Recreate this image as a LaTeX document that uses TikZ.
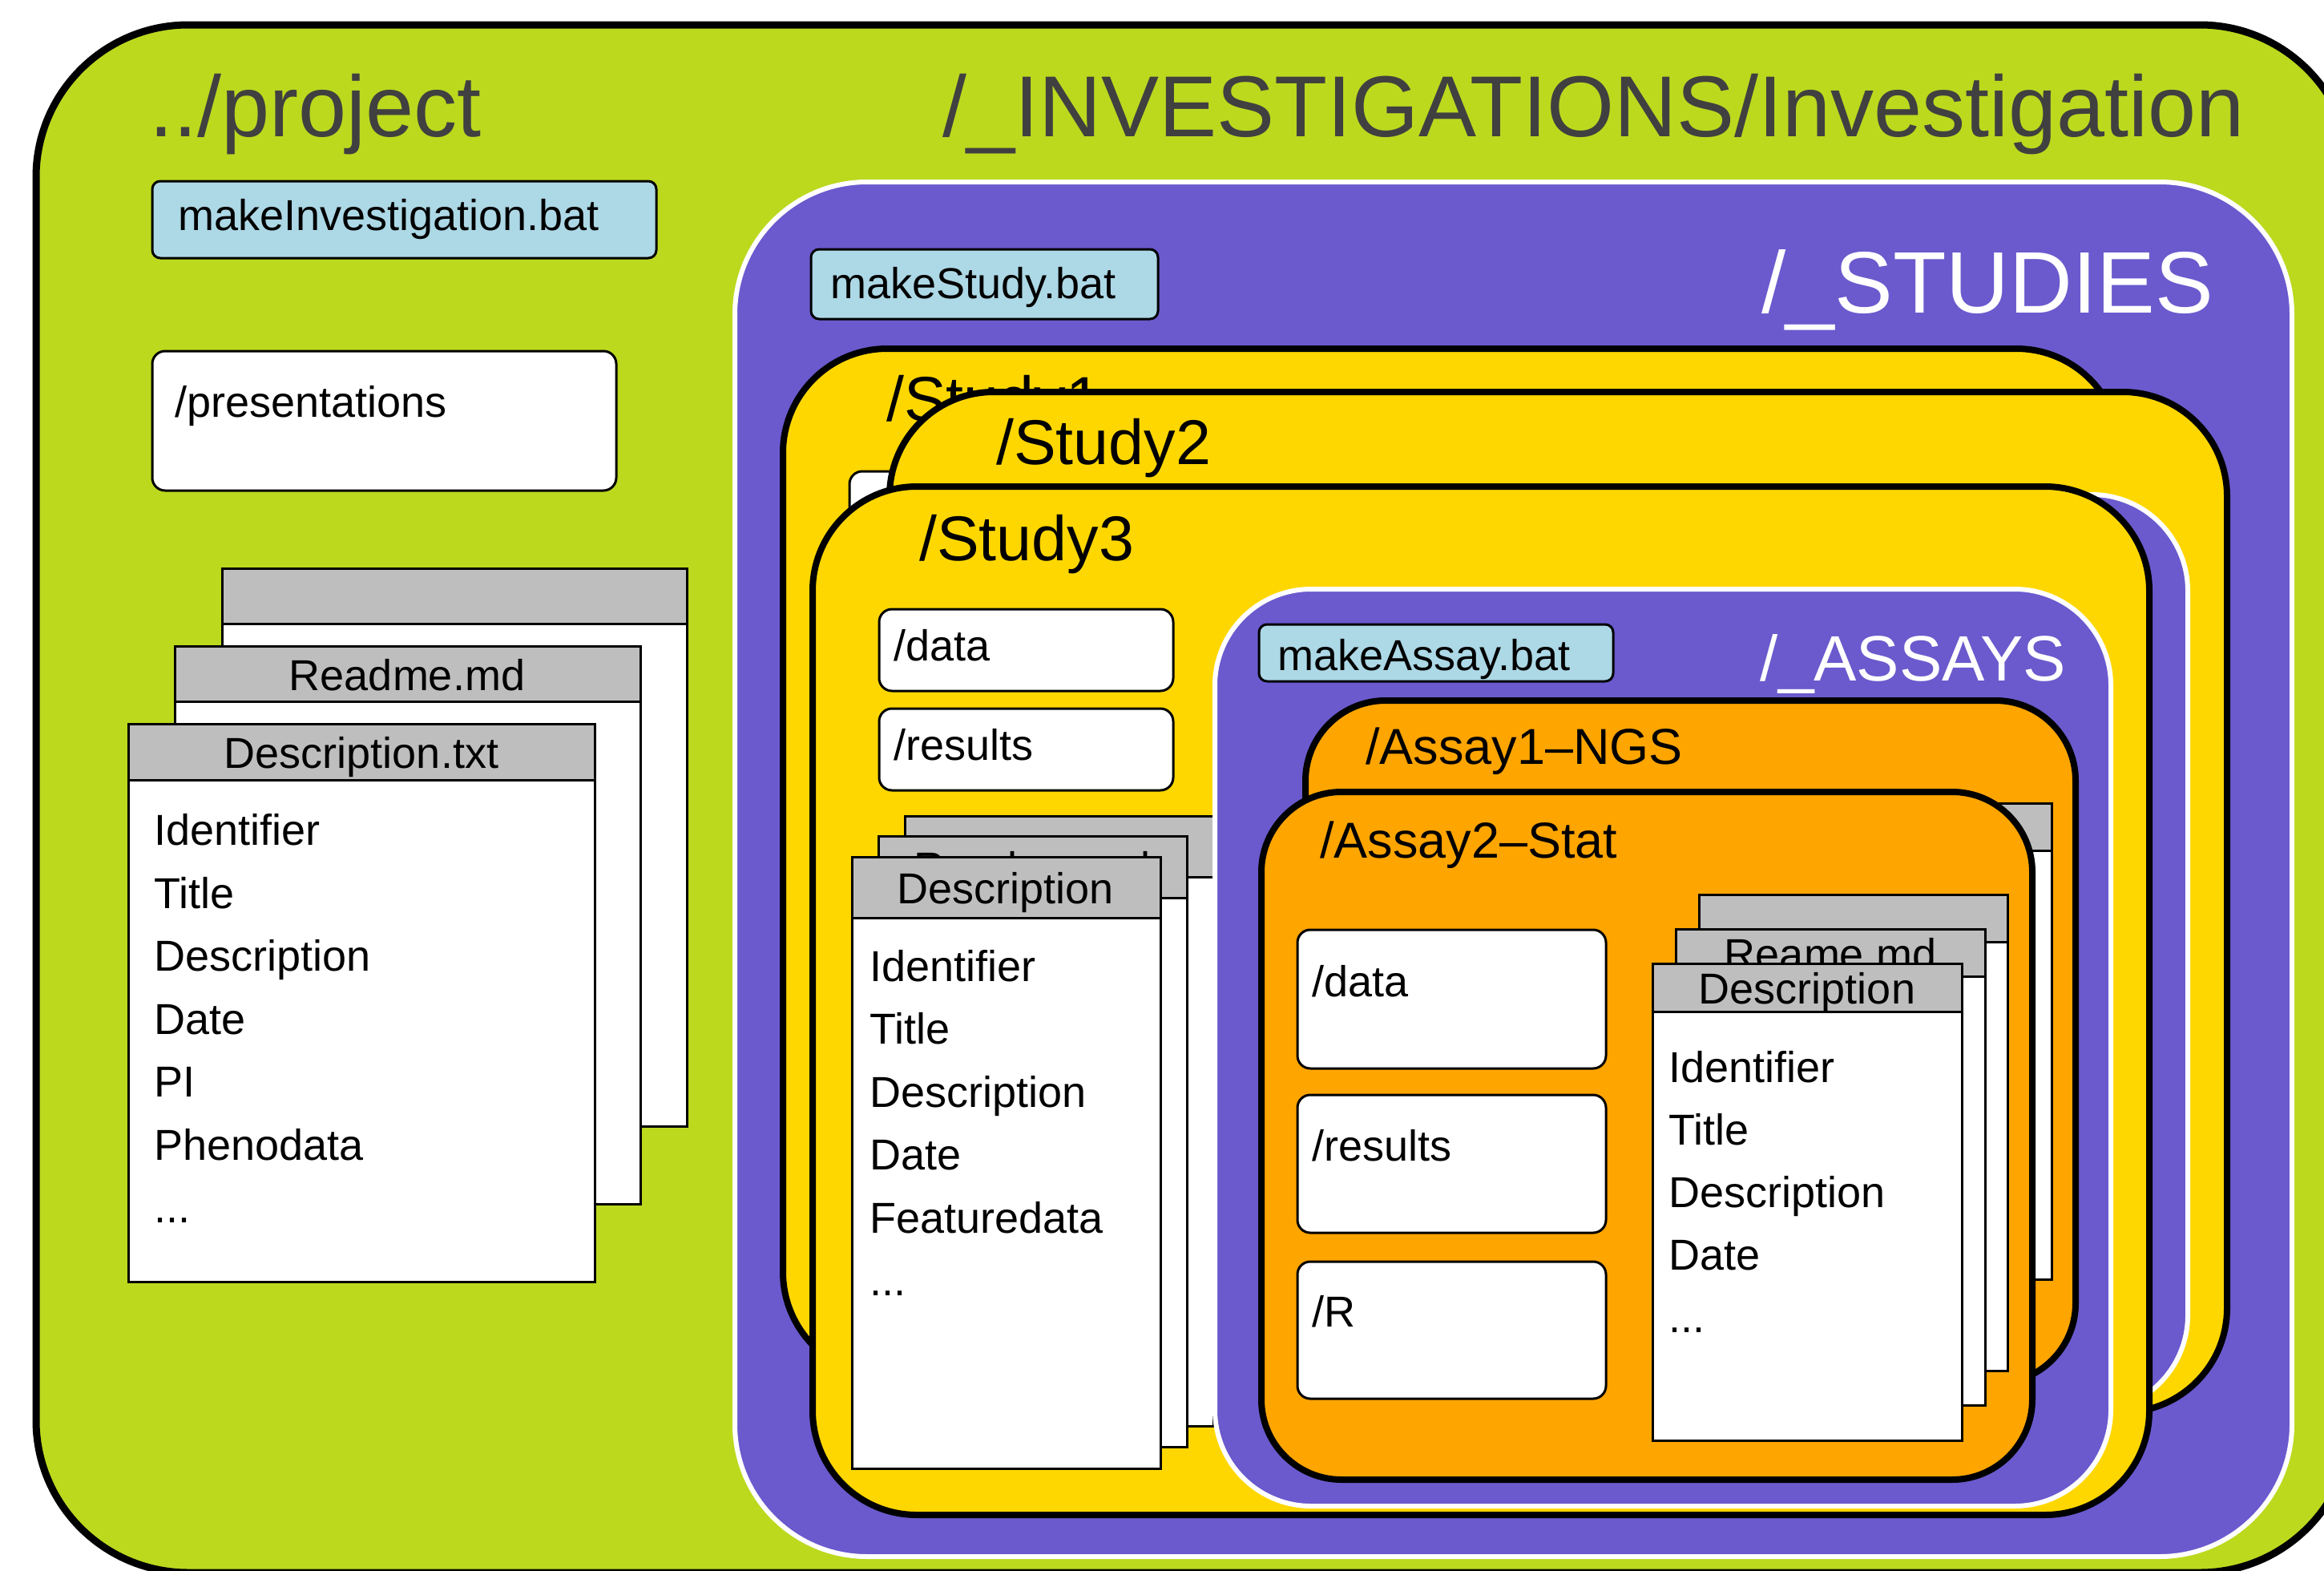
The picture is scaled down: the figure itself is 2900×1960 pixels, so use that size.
\documentclass[tikz,border=0pt]{standalone}
\usepackage{fontspec}
\setmainfont{Liberation Sans}
\definecolor{grn}{RGB}{188,217,30}
\definecolor{purp}{RGB}{106,90,205}
\definecolor{gld}{RGB}{255,215,0}
\definecolor{orng}{RGB}{255,165,0}
\definecolor{lblue}{RGB}{173,216,230}
\definecolor{hdr}{RGB}{190,190,190}
\definecolor{dgray}{RGB}{64,64,64}
\newcommand\docsheet[5]{%
  \draw[docbody] (#1,#2) rectangle (#3,#4);
  \draw[dochead] (#1,#2) rectangle (#3,{#2+#5});}
\begin{document}
\begin{tikzpicture}[x=1pt,y=-1pt,
  greenbox/.style={fill=grn,draw=black,line width=9pt,rounded corners=190pt},
  purpbox/.style={fill=purp,draw=white,line width=6pt},
  studybox/.style={fill=gld,draw=black,line width=8pt,rounded corners=130pt},
  assaybox/.style={fill=orng,draw=black,line width=8pt,rounded corners=100pt},
  batbox/.style={fill=lblue,draw=black,line width=3pt,rounded corners=10pt},
  dirbox/.style={fill=white,draw=black,line width=3pt,rounded corners=16pt},
  docbody/.style={fill=white,draw=black,line width=3pt},
  dochead/.style={fill=hdr,draw=black,line width=3pt},
  txt/.style={font=\fontsize{54pt}{60pt}\selectfont,inner sep=0pt,anchor=base west},
  ctxt/.style={txt,anchor=base},
  bigtxt/.style={font=\fontsize{108pt}{120pt}\selectfont,inner sep=0pt,anchor=base west,text=dgray},
  studylbl/.style={font=\fontsize{79pt}{90pt}\selectfont,inner sep=0pt,anchor=base west},
  assaylbl/.style={font=\fontsize{63pt}{70pt}\selectfont,inner sep=0pt,anchor=base west}
]
\useasboundingbox (0,0) rectangle (2900,1960);
\clip (0,0) rectangle (2900,1960);

% outer project box
\draw[greenbox] (45,31) rectangle (2935,1962);
\node[bigtxt] (project) at (186,170) {../project};
\node[bigtxt] (invest) at (1176,170) {/\_INVESTIGATIONS/Investigation};

\draw[batbox] (190,226) rectangle (819,322);
\node[txt] (mkinv) at (222,287) {makeInvestigation.bat};
\draw[dirbox] (190,438) rectangle (769,612);
\node[txt] (pres) at (218,520) {/presentations};

% left document stack
\docsheet{277}{709}{857}{1405}{69}
\docsheet{218}{806}{799}{1502}{69}
\node[ctxt] (readmeL) at (508,861) {Readme.md};
\docsheet{160}{903}{742}{1599}{70}
\node[ctxt] (descL) at (451,958) {Description.txt};
\node[txt] (l1) at (192,1054.5) {Identifier};
\node[txt] (l2) at (192,1133) {Title};
\node[txt] (l3) at (192,1211.5) {Description};
\node[txt] (l4) at (192,1290) {Date};
\node[txt] (l5) at (192,1368.5) {PI};
\node[txt] (l6) at (192,1447) {Phenodata};
\node[txt] (l7) at (192,1525.5) {...};

% studies
\draw[purpbox,rounded corners=165pt] (917,227) rectangle (2860,1942);
\draw[batbox] (1012,311) rectangle (1445,398);
\node[txt] (mkstudy) at (1036,372) {makeStudy.bat};
\node[font=\fontsize{109pt}{120pt}\selectfont,inner sep=0pt,anchor=base east,text=white] (studies) at (2762,390) {/\_STUDIES};

% Study1
\draw[studybox] (977,435) rectangle (2646,1717);
\node[studylbl] (s1) at (1106,525) {/Study1};
\draw[dirbox] (1060,588) rectangle (1428,691);

% Study2
\draw[studybox] (1110,489) rectangle (2779,1762);
\node[studylbl] (s2) at (1243,579) {/Study2};
\draw[purpbox,rounded corners=120pt] (1612,617) rectangle (2730,1761);

% Study3
\draw[studybox] (1014,607) rectangle (2682,1890);
\node[studylbl] (s3) at (1147,699) {/Study3};
\draw[dirbox] (1097,760) rectangle (1464,862);
\node[txt] (s3data) at (1115,824) {/data};
\draw[dirbox] (1097,884) rectangle (1464,986);
\node[txt] (s3res) at (1115,948) {/results};

\docsheet{1129}{1018}{1514}{1779}{76}
\docsheet{1096}{1043}{1481}{1805}{77}
\node[ctxt] (s3readme) at (1288,1101) {Readme.md};
\docsheet{1063}{1069}{1448}{1832}{76}
\node[ctxt] (s3desc) at (1255,1127) {Description};
\node[txt] (m1) at (1085,1224) {Identifier};
\node[txt] (m2) at (1085,1302.5) {Title};
\node[txt] (m3) at (1085,1381) {Description};
\node[txt] (m4) at (1085,1459.5) {Date};
\node[txt] (m5) at (1085,1538) {Featuredata};
\node[txt] (m6) at (1085,1616.5) {...};

% assays
\draw[purpbox,rounded corners=120pt] (1516,735) rectangle (2634,1879);
\draw[batbox] (1571,779) rectangle (2013,850);
\node[txt] (mkassay) at (1594,836) {makeAssay.bat};
\node[font=\fontsize{80pt}{90pt}\selectfont,inner sep=0pt,anchor=base east,text=white] (assays) at (2578,849) {/\_ASSAYS};

% Assay1
\draw[assaybox] (1629,874) rectangle (2590,1726);
\node[assaylbl] (a1) at (1704,953) {/Assay1–NGS};
\docsheet{2175}{1002}{2560}{1596}{59}

% Assay2
\draw[assaybox] (1574,988) rectangle (2536,1846);
\node[assaylbl] (a2) at (1647,1070) {/Assay2–Stat};
\draw[dirbox] (1619,1160) rectangle (2004,1333);
\node[txt] (a2data) at (1637,1243) {/data};
\draw[dirbox] (1619,1366) rectangle (2004,1538);
\node[txt] (a2res) at (1637,1448) {/results};
\draw[dirbox] (1619,1574) rectangle (2004,1745);
\node[txt] (a2r) at (1637,1655) {/R};

\docsheet{2120}{1116}{2505}{1710}{59}
\docsheet{2091}{1159}{2477}{1753}{59}
\node[ctxt] (a2readme) at (2284,1209) {Reame.md};
\docsheet{2062}{1202}{2448}{1797}{60}
\node[ctxt] (a2desc) at (2255,1252) {Description};
\node[txt] (n1) at (2082,1350) {Identifier};
\node[txt] (n2) at (2082,1428) {Title};
\node[txt] (n3) at (2082,1506) {Description};
\node[txt] (n4) at (2082,1584) {Date};
\node[txt] (n5) at (2082,1662) {...};
\end{tikzpicture}
\end{document}
